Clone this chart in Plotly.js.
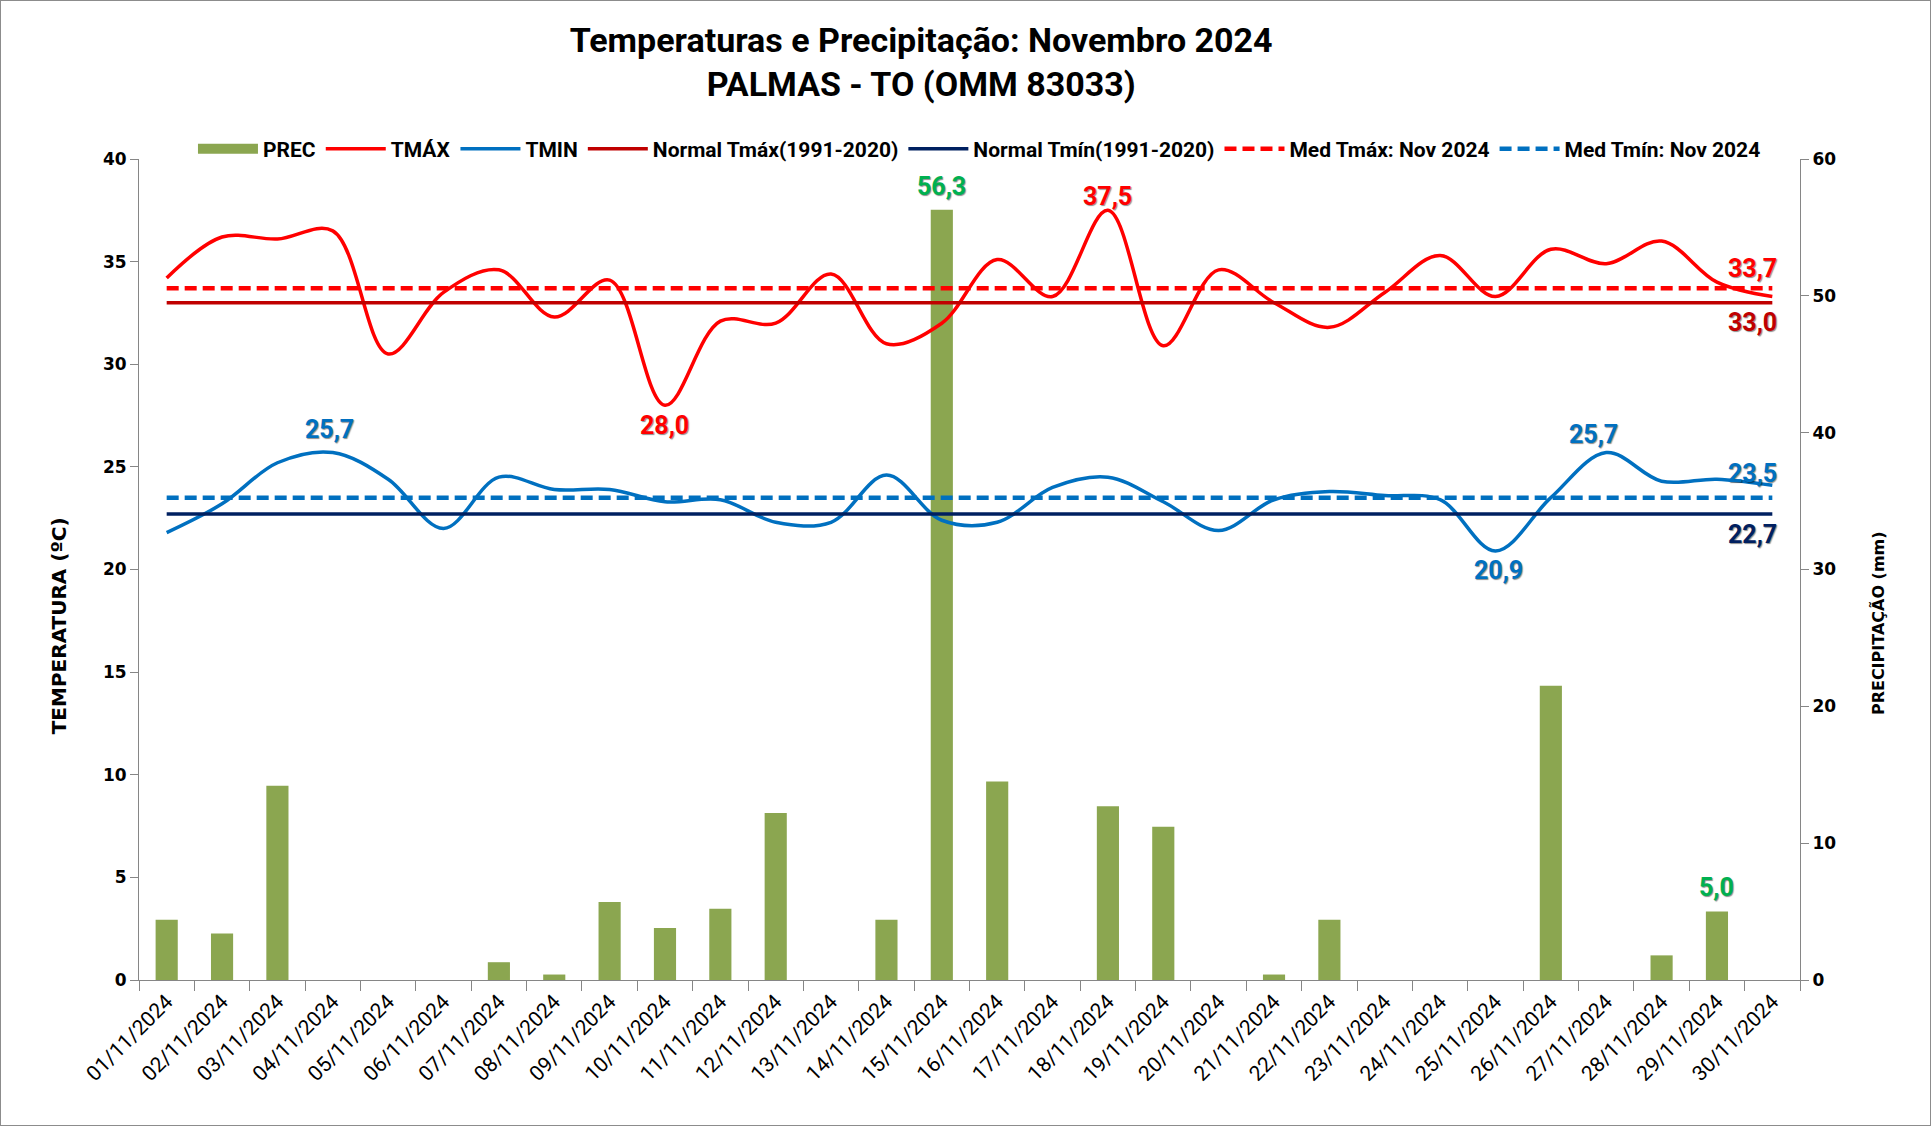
<!DOCTYPE html>
<html>
<head>
<meta charset="utf-8">
<script src="https://cdn.plot.ly/plotly-3.0.1.min.js"></script>
<style>
  html, body { margin: 0; padding: 0; background: #fff; }
  #chart { width: 1931px; height: 1126px; box-sizing: border-box; border: 1px solid #8c8c8c; }
</style>
</head>
<body>
<div id="chart"></div>
<script>
// ---- data ----
const days = ["01/11/2024","02/11/2024","03/11/2024","04/11/2024","05/11/2024","06/11/2024","07/11/2024","08/11/2024","09/11/2024","10/11/2024",
              "11/11/2024","12/11/2024","13/11/2024","14/11/2024","15/11/2024","16/11/2024","17/11/2024","18/11/2024","19/11/2024","20/11/2024",
              "21/11/2024","22/11/2024","23/11/2024","24/11/2024","25/11/2024","26/11/2024","27/11/2024","28/11/2024","29/11/2024","30/11/2024"];
const prec = [4.4, 3.4, 14.2, 0, 0, 0, 1.3, 0.4, 5.7, 3.8,
              5.2, 12.2, 0, 4.4, 56.3, 14.5, 0, 12.7, 11.2, 0,
              0.4, 4.4, 0, 0, 0, 21.5, 0, 1.8, 5.0, 0];
const tmax = [34.2, 36.2, 36.1, 36.5, 30.5, 33.5, 34.6, 32.3, 34.1, 28.0,
              32.1, 32.0, 34.4, 31.0, 32.0, 35.1, 33.3, 37.5, 30.9, 34.6,
              33.0, 31.8, 33.5, 35.3, 33.3, 35.6, 34.9, 36.0, 34.0, 33.3];
const tmin = [21.8, 23.2, 25.2, 25.7, 24.4, 22.0, 24.5, 23.9, 23.9, 23.3,
              23.4, 22.3, 22.3, 24.6, 22.4, 22.3, 24.0, 24.5, 23.3, 21.9,
              23.4, 23.8, 23.6, 23.4, 20.9, 23.5, 25.7, 24.3, 24.4, 24.1];
const normalTmax = 33.0;
const normalTmin = 22.7;
const medTmax = 33.7;
const medTmin = 23.5;
const tempTicks = [0, 5, 10, 15, 20, 25, 30, 35, 40];
const precTicks = [0, 10, 20, 30, 40, 50, 60];

// ---- styles ----
const NARROW = "Liberation Sans Narrow, Arial Narrow, Roboto, sans-serif";
const WIDE = "DejaVu Sans, Verdana, sans-serif";
const C_BAR = "#8BA650", C_TMAX = "#FF0000", C_TMIN = "#0070C0", C_NTMAX = "#C00000", C_NTMIN = "#002060", C_GREEN = "#00B050";

const fmt = v => v.toFixed(1).replace(".", ",");
const first = days[0], last = days[days.length - 1];

const traces = [
  { type: "bar", x: days, y: prec, yaxis: "y", marker: { color: C_BAR }, name: "PREC", showlegend: false, hoverinfo: "x+y" },
  { type: "scatter", mode: "lines", x: [null], y: [null], yaxis: "y", name: "PREC", line: { color: C_BAR, width: 14 } },
  { type: "scatter", mode: "lines", x: days, y: tmax, yaxis: "y2", name: "TMÁX", line: { color: C_TMAX, width: 3.5, shape: "spline", smoothing: 1 } },
  { type: "scatter", mode: "lines", x: days, y: tmin, yaxis: "y2", name: "TMIN", line: { color: C_TMIN, width: 3.5, shape: "spline", smoothing: 1 } },
  { type: "scatter", mode: "lines", x: [first, last], y: [normalTmax, normalTmax], yaxis: "y2", name: "Normal Tmáx(1991-2020)", line: { color: C_NTMAX, width: 3.5 } },
  { type: "scatter", mode: "lines", x: [first, last], y: [normalTmin, normalTmin], yaxis: "y2", name: "Normal Tmín(1991-2020)", line: { color: C_NTMIN, width: 3.5 } },
  { type: "scatter", mode: "lines", x: [first, last], y: [medTmax, medTmax], yaxis: "y2", name: "Med Tmáx: Nov 2024", line: { color: C_TMAX, width: 4.5, dash: "12px,6px" } },
  { type: "scatter", mode: "lines", x: [first, last], y: [medTmin, medTmin], yaxis: "y2", name: "Med Tmín: Nov 2024", line: { color: C_TMIN, width: 4.5, dash: "12px,6px" } }
];

function lab(i, val, yref, color, shift, xshift) {
  return {
    x: days[i], y: val, xref: "x", yref: yref, text: fmt(val), showarrow: false,
    yshift: shift, xshift: xshift || 0,
    font: { family: NARROW, size: 25, color: color, weight: "bold", shadow: "1px 1px 1px rgba(0,0,0,0.45)" }
  };
}
const iMaxP = prec.indexOf(Math.max(...prec));
const iMaxT = tmax.indexOf(Math.max(...tmax));
const iMinT = tmax.indexOf(Math.min(...tmax));
const iMinN = tmin.indexOf(Math.min(...tmin));
const L = days.length - 1;

const annotations = [
  lab(iMaxP, prec[iMaxP], "y", C_GREEN, 23),
  lab(28, prec[28], "y", C_GREEN, 24),
  lab(iMaxT, tmax[iMaxT], "y2", C_TMAX, 14),
  lab(iMinT, tmax[iMinT], "y2", C_TMAX, -20),
  lab(3, tmin[3], "y2", C_TMIN, 23, -3),
  lab(26, tmin[26], "y2", C_TMIN, 18, -13),
  lab(iMinN, tmin[iMinN], "y2", C_TMIN, -19, 3),
  lab(L, medTmax, "y2", C_TMAX, 20, -20),
  lab(L, normalTmax, "y2", C_NTMAX, -20, -20),
  lab(L, medTmin, "y2", C_TMIN, 24, -20),
  lab(L, normalTmin, "y2", C_NTMIN, -20, -20),
  // axis titles
  { text: "TEMPERATURA (ºC)", xref: "paper", yref: "paper", x: -0.0482, y: 0.432, textangle: -90,
    showarrow: false, xanchor: "center", yanchor: "middle",
    font: { family: WIDE, size: 20, color: "#000000", weight: "bold" } },
  { text: "PRECIPITAÇÃO (mm)", xref: "paper", yref: "paper", x: 1.0477, y: 0.435, textangle: -90,
    showarrow: false, xanchor: "center", yanchor: "middle",
    font: { family: WIDE, size: 16, color: "#000000", weight: "bold" } }
];

const axisBase = {
  showgrid: false, zeroline: false, showline: true, linecolor: "#868686", linewidth: 1,
  ticks: "outside", ticklen: 8, tickcolor: "#868686", tickwidth: 1
};

const layout = {
  width: 1929, height: 1124,
  margin: { l: 138, r: 130, t: 158, b: 145 },
  paper_bgcolor: "#ffffff", plot_bgcolor: "#ffffff",
  title: {
    text: "Temperaturas e Precipitação: Novembro 2024<br>PALMAS - TO (OMM 83033)",
    font: { family: NARROW, size: 34, color: "#000000", weight: "bold" },
    x: 0.477, xanchor: "center", xref: "container",
    y: 0.955, yanchor: "top", yref: "container"
  },
  showlegend: true,
  legend: {
    orientation: "h", x: 0.506, xanchor: "center", y: 1.012, yanchor: "middle",
    font: { family: NARROW, size: 21, color: "#000000", weight: "bold" },
    bgcolor: "rgba(0,0,0,0)", itemwidth: 60, tracegroupgap: 0
  },
  bargap: 0.6,
  xaxis: Object.assign({}, axisBase, {
    type: "category", categoryorder: "array", categoryarray: days,
    range: [-0.5, days.length - 0.5], tickson: "boundaries", ticklen: 10,
    tickangle: -45, tickfont: { family: NARROW, size: 21, color: "#000000" }
  }),
  yaxis: Object.assign({}, axisBase, {
    side: "right", range: [0, 60], tickvals: precTicks, ticktext: precTicks.map(String),
    tickfont: { family: WIDE, size: 17, color: "#000000", weight: "bold" }
  }),
  yaxis2: Object.assign({}, axisBase, {
    overlaying: "y", side: "left", range: [0, 40], tickvals: tempTicks, ticktext: tempTicks.map(String),
    tickfont: { family: WIDE, size: 17, color: "#000000", weight: "bold" }
  }),
  annotations: annotations
};

Plotly.newPlot("chart", traces, layout, { displayModeBar: false, staticPlot: true });
</script>
</body>
</html>
